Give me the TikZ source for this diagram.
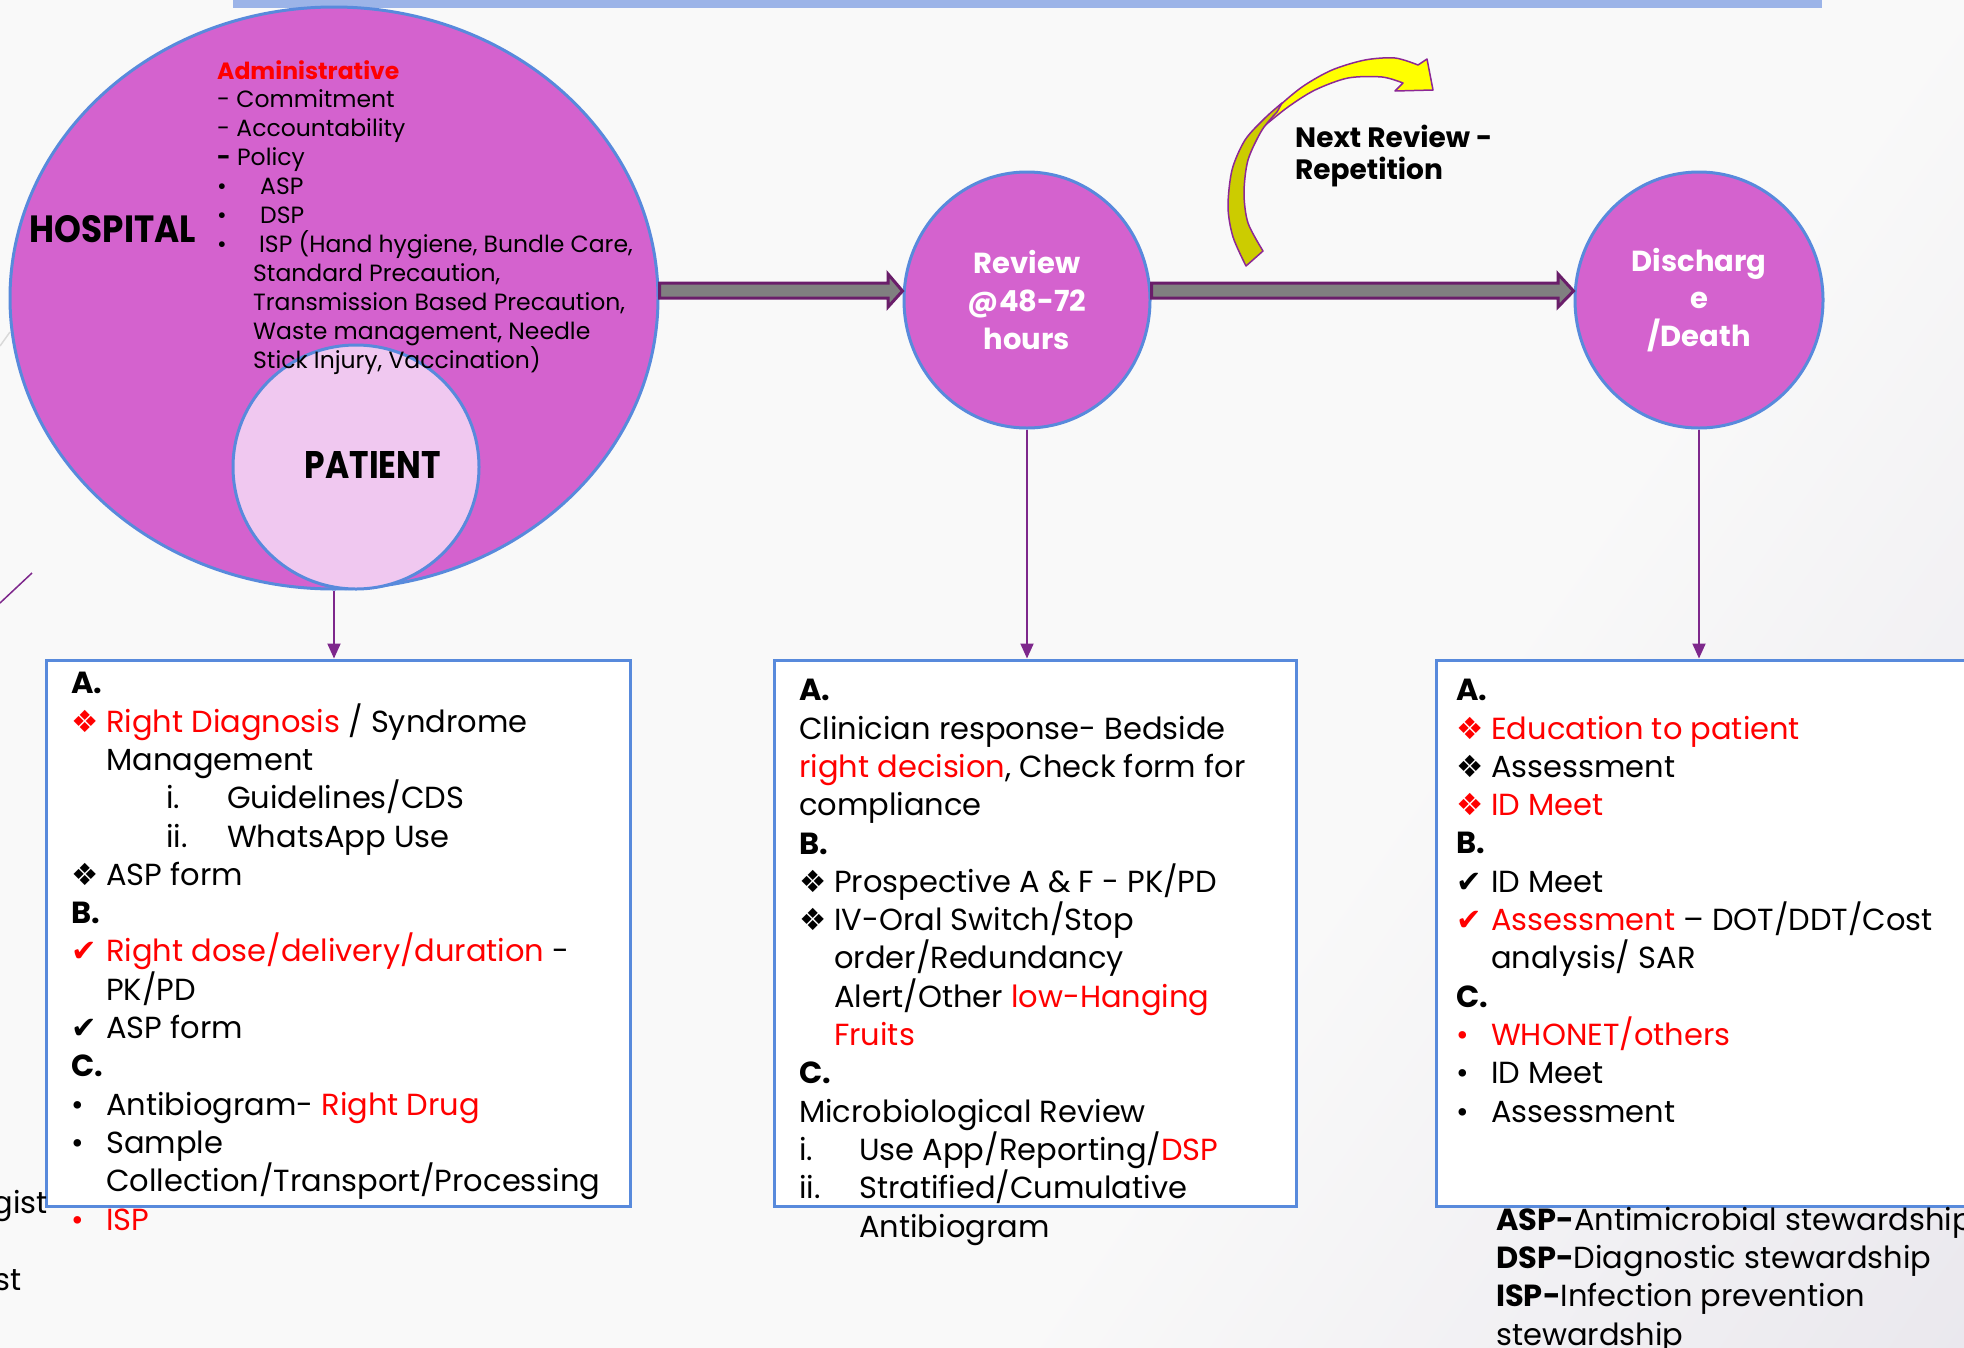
\documentclass[tikz,border=0pt]{standalone}
\usepackage{fontspec}
\setmainfont{Poppins}
\newfontfamily\dingfont{DejaVu Sans}
\usetikzlibrary{shapes.geometric,arrows.meta}

\definecolor{orchid}{RGB}{212,98,206}
\definecolor{ringblue}{RGB}{88,138,220}
\definecolor{patientpink}{RGB}{240,200,240}
\definecolor{shaftgrey}{RGB}{128,128,128}
\definecolor{shaftline}{RGB}{106,30,106}
\definecolor{linkpurple}{RGB}{126,40,140}
\definecolor{barblue}{RGB}{156,180,232}
\definecolor{bgcol}{RGB}{249,249,249}
\definecolor{bgdark}{RGB}{224,221,230}
\definecolor{ribbonhi}{RGB}{255,255,0}
\definecolor{ribbonlo}{RGB}{204,204,0}
\definecolor{ribbonline}{RGB}{140,40,150}

\pgfdeclarehorizontalshading{slidebg}{100bp}{color(0bp)=(bgcol); color(62bp)=(bgcol); color(100bp)=(bgdark)}

% list bullets
\newcommand{\dia}[1][black]{\makebox[35pt][l]{\textcolor{#1}{\dingfont ❖}}}
\newcommand{\chk}[1][black]{\makebox[35pt][l]{\textcolor{#1}{\dingfont ✔}}}
\newcommand{\bul}[1][black]{\makebox[35pt][l]{\textcolor{#1}{\textbullet}}}
\newcommand{\ind}{\hspace*{35pt}}

\begin{document}
\begin{tikzpicture}[x=1pt,y=-1pt,
    stage/.style={ellipse,draw=ringblue,line width=3pt,fill=orchid,inner sep=0pt,
                  text=white,align=center,font=\fontsize{29}{37.6}\selectfont\bfseries},
    listbox/.style={draw=ringblue,line width=3pt,fill=white,inner sep=0pt},
    % multi-line text: placed at the baseline of its last line
    listtext/.style={anchor=base west,inner sep=0pt,align=left,font=\fontsize{30.5}{38.3}\selectfont},
    admtext/.style={anchor=base west,inner sep=0pt,align=left,font=\fontsize{23.5}{28.9}\selectfont},
    blockarrow/.style={fill=shaftgrey,draw=shaftline,line width=3pt,line join=miter},
    link/.style={draw=linkpurple,line width=2pt,-{Triangle[length=15pt,width=13pt]}},
    ribbon/.style={draw=ribbonline,line width=1.5pt,line join=round}]

    \clip (0,0) rectangle (1964,1347);
    \shade[shading=slidebg,shading angle=-35] (0,0) rectangle (1964,1347);
    \fill[barblue] (233,0) rectangle (1822,8);
    \draw[black!15,line width=1.5pt] (0,346) -- (10,332);
    \draw[linkpurple,line width=1.5pt] (0,603) -- (32,573);

    % stages
    \node[stage,minimum width=648pt,minimum height=582pt] (hosp) at (334,298) {};
    \node[stage,fill=patientpink,minimum width=246pt,minimum height=244pt] (pat) at (356,467) {};
    \node[stage,minimum width=246pt,minimum height=256pt] (rev) at (1027,300) {Review\\@48-72\\hours};
    \node[stage,minimum width=248pt,minimum height=256pt] (dis) at (1699,300) {Discharg\\e\\/Death};

    \node[inner sep=0pt] (hosplabel) at (113,229) {\resizebox{166pt}{27pt}{\bfseries HOSPITAL}};
    \node[inner sep=0pt] (patlabel) at (373,465) {\resizebox{136pt}{27pt}{\bfseries PATIENT}};

    \node[admtext] (adm) at (217,368) {%
        \textcolor{red}{\bfseries Administrative}\\
        - Commitment\\
        - Accountability\\
        \textbf{-} Policy\\
        \makebox[43pt][l]{\textbullet}ASP\\
        \makebox[43pt][l]{\textbullet}DSP\\
        \makebox[42pt][l]{\textbullet}ISP (Hand hygiene, Bundle Care,\\
        \hspace*{36pt}Standard Precaution,\\
        \hspace*{36pt}Transmission Based Precaution,\\
        \hspace*{36pt}Waste management, Needle\\
        \hspace*{36pt}Stick Injury, Vaccination)};

    % flow arrows
    \draw[blockarrow] (hosp.east |- 0,283) -- (888,283) -- (888,274) -- (rev.west |- 0,291)
        -- (888,307) -- (888,298) -- (hosp.east |- 0,298) -- cycle;
    \draw[blockarrow] (rev.east |- 0,283) -- (1558,283) -- (1558,274) -- (dis.west |- 0,291)
        -- (1558,307) -- (1558,298) -- (rev.east |- 0,298) -- cycle;

    % repetition ribbon
    \filldraw[ribbon,fill=ribbonhi] plot[smooth] coordinates {(1263,127) (1275,110) (1302,87) (1332,70) (1365,60) (1395,58) (1418,65)}
        -- (1427,59) -- (1433,90) -- (1395,91)
        -- plot[smooth] coordinates {(1403,83) (1382,77) (1348,78) (1315,90) (1288,107) (1263,127)} -- cycle;
    \filldraw[ribbon,fill=ribbonlo] plot[smooth] coordinates {(1246,266) (1233,237) (1228,207) (1232,170) (1245,140) (1265,118) (1282,103)}
        -- plot[smooth] coordinates {(1277,112) (1262,130) (1248,160) (1244,193) (1248,223) (1263,251)} -- cycle;
    \node[anchor=base west,inner sep=0pt,align=left,font=\fontsize{28}{32.6}\selectfont\bfseries] (rep) at (1295,179.6) {Next Review -\\Repetition};

    % lists
    \node[listbox,minimum width=584pt,minimum height=546pt] (boxA) at (338,933) {};
    \node[listbox,minimum width=522pt,minimum height=546pt] (boxB) at (1035,933) {};
    \node[listbox,minimum width=563pt,minimum height=546pt] (boxC) at (1718,933) {};

    \draw[link] (hosp.south) -- (hosp.south |- boxA.north);
    \draw[link] (rev.south) -- (rev.south |- boxB.north);
    \draw[link] (dis.south) -- (dis.south |- boxC.north);

    \node[listtext] (txtA) at (71,1230) {%
        \textbf{A.}\\
        \dia[red]\textcolor{red}{Right Diagnosis} / Syndrome\\
        \ind Management\\
        \hspace*{95pt}\makebox[61pt][l]{i.}Guidelines/CDS\\
        \hspace*{95pt}\makebox[61pt][l]{ii.}WhatsApp Use\\
        \dia ASP form\\
        \textbf{B.}\\
        \chk[red]\textcolor{red}{Right dose/delivery/duration} -\\
        \ind PK/PD\\
        \chk ASP form\\
        \textbf{C.}\\
        \bul Antibiogram- \textcolor{red}{Right Drug}\\
        \bul Sample\\
        \ind Collection/Transport/Processing\\
        \bul[red]\textcolor{red}{ISP}};

    \node[listtext] (txtB) at (799,1237) {%
        \textbf{A.}\\
        Clinician response- Bedside\\
        \textcolor{red}{right decision}, Check form for\\
        compliance\\
        \textbf{B.}\\
        \dia Prospective A \& F - PK/PD\\
        \dia IV-Oral Switch/Stop\\
        \ind order/Redundancy\\
        \ind Alert/Other \textcolor{red}{low-Hanging}\\
        \ind\textcolor{red}{Fruits}\\
        \textbf{C.}\\
        Microbiological Review\\
        \makebox[60pt][l]{i.}Use App/Reporting/\textcolor{red}{DSP}\\
        \makebox[60pt][l]{ii.}Stratified/Cumulative\\
        \hspace*{60pt}Antibiogram};

    \node[listtext] (txtC) at (1456,1122) {%
        \textbf{A.}\\
        \dia[red]\textcolor{red}{Education to patient}\\
        \dia Assessment\\
        \dia[red]\textcolor{red}{ID Meet}\\
        \textbf{B.}\\
        \chk ID Meet\\
        \chk[red]\textcolor{red}{Assessment} -- DOT/DDT/Cost\\
        \ind analysis/ SAR\\
        \textbf{C.}\\
        \bul[red]\textcolor{red}{WHONET/others}\\
        \bul ID Meet\\
        \bul Assessment};

    \node[listtext] (legend) at (1496,1345) {%
        \textbf{ASP-}Antimicrobial stewardship\\
        \textbf{DSP-}Diagnostic stewardship\\
        \textbf{ISP-}Infection prevention\\
        stewardship};

    \node[listtext,anchor=base east] (gist) at (48,1213) {gist};
    \node[listtext,anchor=base east] (st) at (22,1290) {st};
\end{tikzpicture}
\end{document}
